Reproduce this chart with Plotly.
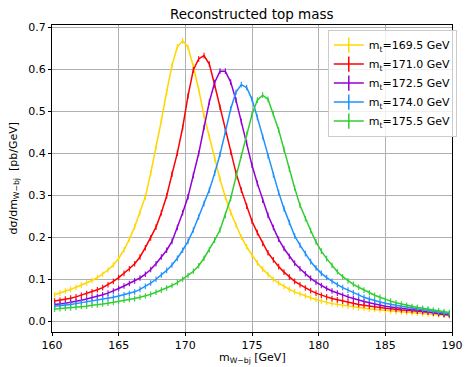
import numpy as np
import plotly.graph_objects as go

# 0.4 GeV bins between 160 and 190 GeV
bin_edges = np.linspace(160.0, 190.0, 76)
m_wbj = 0.5 * (bin_edges[:-1] + bin_edges[1:])

mt_labels = ["169.5", "171.0", "172.5", "174.0", "175.5"]
colors = ["#FFD700", "#FF0000", "#9400D3", "#1E90FF", "#32CD32"]

xsec_1695 = [
    0.063, 0.067, 0.072, 0.076, 0.081, 0.086, 0.091, 0.097, 0.104, 0.112,
    0.122, 0.134, 0.150, 0.170, 0.195, 0.225, 0.258, 0.296, 0.352, 0.413,
    0.477, 0.546, 0.609, 0.653, 0.667, 0.652, 0.606, 0.552, 0.489, 0.439,
    0.387, 0.338, 0.296, 0.259, 0.229, 0.200, 0.177, 0.157, 0.139, 0.124,
    0.111, 0.100, 0.091, 0.083, 0.076, 0.070, 0.065, 0.060, 0.056, 0.052,
    0.048, 0.045, 0.042, 0.040, 0.038, 0.036, 0.034, 0.032, 0.031, 0.029,
    0.028, 0.027, 0.025, 0.024, 0.023, 0.022, 0.021, 0.020, 0.019, 0.018,
    0.017, 0.016, 0.015, 0.014, 0.013,
]
xsec_1710 = [
    0.048, 0.050, 0.053, 0.055, 0.058, 0.062, 0.066, 0.070, 0.075, 0.080,
    0.087, 0.095, 0.104, 0.114, 0.125, 0.137, 0.153, 0.175, 0.198, 0.224,
    0.258, 0.298, 0.350, 0.400, 0.461, 0.536, 0.598, 0.624, 0.632, 0.612,
    0.562, 0.509, 0.455, 0.403, 0.353, 0.312, 0.274, 0.238, 0.211, 0.185,
    0.163, 0.146, 0.130, 0.117, 0.105, 0.095, 0.087, 0.079, 0.073, 0.067,
    0.062, 0.058, 0.054, 0.051, 0.048, 0.045, 0.042, 0.040, 0.038, 0.036,
    0.034, 0.033, 0.031, 0.030, 0.028, 0.027, 0.026, 0.025, 0.024, 0.023,
    0.022, 0.020, 0.018, 0.016, 0.015,
]
xsec_1725 = [
    0.040, 0.041, 0.043, 0.045, 0.047, 0.050, 0.053, 0.056, 0.059, 0.063,
    0.067, 0.072, 0.078, 0.084, 0.090, 0.096, 0.103, 0.112, 0.123, 0.137,
    0.153, 0.169, 0.190, 0.223, 0.258, 0.296, 0.347, 0.399, 0.461, 0.522,
    0.568, 0.595, 0.595, 0.569, 0.526, 0.475, 0.425, 0.371, 0.328, 0.288,
    0.252, 0.223, 0.195, 0.173, 0.154, 0.138, 0.125, 0.113, 0.102, 0.093,
    0.085, 0.078, 0.072, 0.067, 0.062, 0.058, 0.054, 0.050, 0.047, 0.044,
    0.041, 0.039, 0.036, 0.034, 0.032, 0.031, 0.029, 0.028, 0.026, 0.025,
    0.023, 0.021, 0.019, 0.017, 0.016,
]
xsec_1740 = [
    0.036, 0.037, 0.038, 0.040, 0.042, 0.044, 0.046, 0.048, 0.050, 0.052,
    0.055, 0.057, 0.060, 0.063, 0.066, 0.070, 0.076, 0.083, 0.091, 0.100,
    0.110, 0.121, 0.134, 0.150, 0.169, 0.190, 0.217, 0.248, 0.280, 0.312,
    0.352, 0.397, 0.450, 0.505, 0.545, 0.563, 0.556, 0.528, 0.485, 0.439,
    0.393, 0.348, 0.306, 0.268, 0.235, 0.203, 0.181, 0.161, 0.142, 0.127,
    0.114, 0.104, 0.095, 0.087, 0.080, 0.074, 0.068, 0.062, 0.057, 0.053,
    0.049, 0.046, 0.043, 0.040, 0.038, 0.036, 0.034, 0.032, 0.030, 0.028,
    0.026, 0.024, 0.022, 0.020, 0.018,
]
xsec_1755 = [
    0.029, 0.030, 0.031, 0.032, 0.033, 0.035, 0.036, 0.038, 0.039, 0.041,
    0.043, 0.045, 0.048, 0.050, 0.052, 0.054, 0.057, 0.060, 0.064, 0.069,
    0.074, 0.079, 0.085, 0.092, 0.100, 0.109, 0.119, 0.132, 0.150, 0.170,
    0.193, 0.217, 0.252, 0.292, 0.344, 0.395, 0.445, 0.492, 0.526, 0.538,
    0.528, 0.494, 0.455, 0.409, 0.362, 0.317, 0.276, 0.244, 0.216, 0.189,
    0.167, 0.149, 0.133, 0.118, 0.106, 0.096, 0.088, 0.081, 0.074, 0.068,
    0.062, 0.057, 0.052, 0.048, 0.044, 0.041, 0.038, 0.035, 0.033, 0.031,
    0.029, 0.027, 0.025, 0.023, 0.021,
]

series = [xsec_1695, xsec_1710, xsec_1725, xsec_1740, xsec_1755]

x_ticks = [160, 165, 170, 175, 180, 185, 190]
y_ticks = [0.0, 0.1, 0.2, 0.3, 0.4, 0.5, 0.6, 0.7]

FONT = "DejaVu Sans"

fig = go.Figure()
for label, col, vals in zip(mt_labels, colors, series):
    # binned curve with a short vertical tick at each bin centre
    fig.add_trace(go.Scatter(
        x=m_wbj, y=vals,
        mode="lines+markers",
        showlegend=False,
        line=dict(color=col, width=1.5),
        marker=dict(symbol="line-ns-open", size=4,
                    line=dict(color=col, width=1.1), color=col),
    ))
    # legend entry with a larger cross-shaped key
    fig.add_trace(go.Scatter(
        x=[None], y=[None],
        mode="lines+markers",
        name=f"m<sub>t</sub>={label} GeV",
        line=dict(color=col, width=1.5),
        marker=dict(symbol="line-ns-open", size=11,
                    line=dict(color=col, width=1.5), color=col),
    ))

axis_common = dict(
    showgrid=True, gridcolor="#b0b0b0", gridwidth=0.8,
    showline=True, linecolor="black", linewidth=1, mirror=True,
    ticks="outside", ticklen=3, tickwidth=1, tickcolor="black",
    zeroline=False,
    tickfont=dict(family=FONT, size=11, color="black"),
)

fig.update_layout(
    width=475, height=367,
    margin=dict(l=52, r=12, t=25, b=35),
    paper_bgcolor="white", plot_bgcolor="white",
    font=dict(family=FONT, size=11, color="black"),
    showlegend=True,
    legend=dict(
        x=1.012, y=0.985, xanchor="right", yanchor="top",
        bgcolor="rgba(255,255,255,0.8)", bordercolor="#cccccc", borderwidth=1,
        font=dict(family=FONT, size=11, color="black"),
        itemwidth=30, tracegroupgap=0,
    ),
    xaxis=dict(range=[160, 190], tickvals=x_ticks,
               ticktext=[str(v) for v in x_ticks], **axis_common),
    yaxis=dict(range=[-0.0255, 0.7048], tickvals=y_ticks,
               ticktext=[f"{v:.1f}" for v in y_ticks], **axis_common),
    annotations=[
        dict(text="Reconstructed top mass", xref="paper", yref="paper",
             x=0.5, y=1.0, yshift=11, showarrow=False,
             font=dict(family=FONT, size=13.5, color="black"),
             xanchor="center", yanchor="middle"),
        dict(text="m<sub>W−bj</sub> [GeV]", xref="paper", yref="paper",
             x=0.5, y=0, yshift=-35, showarrow=False,
             font=dict(family=FONT, size=11, color="black"),
             xanchor="center", yanchor="bottom"),
        dict(text="dσ/dm<sub>W−bj</sub>  [pb/GeV]", xref="paper", yref="paper",
             x=0, xshift=-39, y=0.5, showarrow=False, textangle=-90,
             font=dict(family=FONT, size=11, color="black"),
             xanchor="center", yanchor="middle"),
    ],
)

fig.write_html("out.html")
